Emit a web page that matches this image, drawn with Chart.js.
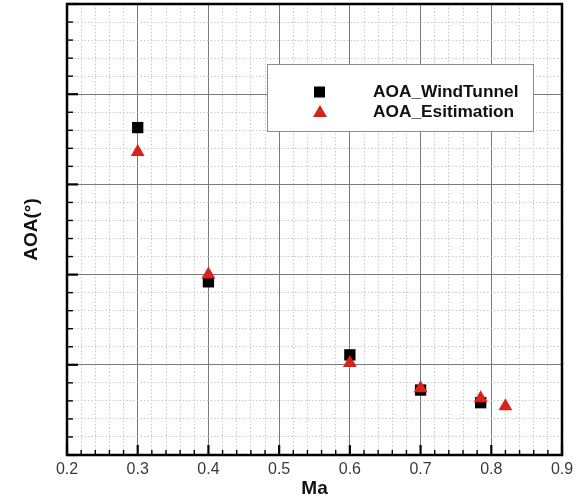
<!DOCTYPE html>
<html>
<head>
<meta charset="utf-8">
<script src="https://cdn.jsdelivr.net/npm/chart.js@4.4.1/dist/chart.umd.min.js"></script>
<style>
  html, body { margin: 0; padding: 0; background: #fff; }
  #wrap { width: 579px; height: 500px; }
</style>
</head>
<body>
<div id="wrap"><canvas id="aoaChart" width="579" height="500"></canvas></div>
<script>
// Mach number / angle of attack samples
const machTunnel = [0.3, 0.4, 0.6, 0.7, 0.785];
const aoaTunnel = [3.63, 1.92, 1.11, 0.72, 0.58];
const machEstim = [0.3, 0.4, 0.6, 0.7, 0.785, 0.82];
const aoaEstim = [3.36, 2.00, 1.02, 0.74, 0.63, 0.54];
const xTicks = [0.2, 0.3, 0.4, 0.5, 0.6, 0.7, 0.8, 0.9];
const seriesNames = ['AOA_WindTunnel', 'AOA_Esitimation'];

const FONT = "'Liberation Sans', Arial, sans-serif";

function pts(xs, ys) {
    return xs.map((x, i) => ({ x: x, y: ys[i] }));
}

function isMajor(v, step) {
    const r = v / step;
    return Math.abs(r - Math.round(r)) < 1e-6;
}

// frame + inward tick marks
const framePlugin = {
    id: 'frame',
    beforeDatasetsDraw(chart) {
        const { ctx, chartArea: a, scales } = chart;
        ctx.save();
        ctx.strokeStyle = '#000';
        scales.x.ticks.forEach(t => {
            const px = scales.x.getPixelForValue(t.value);
            const major = isMajor(t.value, 0.1);
            ctx.lineWidth = major ? 2.2 : 1.4;
            ctx.beginPath();
            ctx.moveTo(px, a.bottom);
            ctx.lineTo(px, a.bottom - (major ? 10 : 5));
            ctx.stroke();
        });
        scales.y.ticks.forEach(t => {
            const py = scales.y.getPixelForValue(t.value);
            const major = isMajor(t.value, 1);
            ctx.lineWidth = major ? 2.2 : 1.4;
            ctx.beginPath();
            ctx.moveTo(a.left, py);
            ctx.lineTo(a.left + (major ? 11 : 6), py);
            ctx.stroke();
        });
        ctx.lineWidth = 2.5;
        ctx.strokeRect(a.left, a.top, a.right - a.left, a.bottom - a.top);
        ctx.restore();
    }
};

// legend box in the upper right of the plot
const legendPlugin = {
    id: 'boxLegend',
    afterDatasetsDraw(chart) {
        const { ctx } = chart;
        const bx = 267, by = 64, bw = 266, bh = 67;
        ctx.save();
        ctx.fillStyle = '#fff';
        ctx.fillRect(bx, by, bw, bh);
        ctx.strokeStyle = '#8c8c8c';
        ctx.lineWidth = 1;
        ctx.strokeRect(bx + 0.5, by + 0.5, bw, bh);
        ctx.font = 'bold 16px ' + FONT;
        ctx.textBaseline = 'middle';
        const rows = [by + 28, by + 48];
        chart.data.datasets.forEach(ds => {
            const cy = rows[ds.legendRow];
            ctx.fillStyle = ds.backgroundColor;
            if (ds.pointStyle === 'rect') {
                ctx.fillRect(314, cy - 5.5, 11, 11);
            } else {
                ctx.beginPath();
                ctx.moveTo(320, cy - 7);
                ctx.lineTo(327, cy + 5);
                ctx.lineTo(313, cy + 5);
                ctx.closePath();
                ctx.fill();
            }
            ctx.fillStyle = '#111';
            ctx.save();
            ctx.translate(373, cy);
            ctx.scale(1.08, 1);
            ctx.fillText(ds.label, 0, 1);
            ctx.restore();
        });
        ctx.restore();
    }
};

new Chart(document.getElementById('aoaChart'), {
    type: 'scatter',
    data: {
        datasets: [
            {
                label: seriesNames[1],
                legendRow: 1,
                data: pts(machEstim, aoaEstim),
                pointStyle: 'triangle',
                pointRadius: 8,
                pointHoverRadius: 8,
                backgroundColor: '#d8231d',
                borderColor: '#d8231d',
                borderWidth: 0,
                order: 0
            },
            {
                label: seriesNames[0],
                legendRow: 0,
                data: pts(machTunnel, aoaTunnel),
                pointStyle: 'rect',
                pointRadius: 8,
                pointHoverRadius: 8,
                backgroundColor: '#000',
                borderColor: '#000',
                borderWidth: 0,
                order: 1
            }
        ]
    },
    options: {
        responsive: false,
        animation: false,
        layout: { autoPadding: false, padding: { top: 4, right: 17, bottom: 0, left: 0 } },
        plugins: {
            legend: { display: false },
            tooltip: { enabled: false }
        },
        scales: {
            x: {
                type: 'linear',
                min: 0.2,
                max: 0.9,
                afterFit: s => { s.height = 45; },
                afterBuildTicks: s => {
                    const t = [];
                    for (let i = 0; i <= 35; i++) t.push({ value: +(0.2 + i * 0.02).toFixed(2) });
                    s.ticks = t;
                },
                grid: {
                    drawTicks: false,
                    color: c => isMajor(c.tick.value, 0.1) ? '#7a7a7a' : '#c9c9c9',
                    lineWidth: 1
                },
                border: {
                    display: false,
                    dash: c => (c.tick && !isMajor(c.tick.value, 0.1)) ? [1.5, 2] : []
                },
                ticks: {
                    autoSkip: false,
                    maxRotation: 0,
                    padding: 5,
                    color: '#3a3a3a',
                    font: { family: FONT, size: 16 },
                    callback: v => xTicks.some(t => Math.abs(t - v) < 1e-6) ? v.toFixed(1) : ''
                },
                title: {
                    display: true,
                    text: 'Ma',
                    color: '#111',
                    padding: { top: 0, bottom: 0 },
                    font: { family: FONT, size: 19, weight: 'bold' }
                }
            },
            y: {
                type: 'linear',
                min: 0,
                max: 5,
                afterFit: s => { s.width = 67; },
                afterBuildTicks: s => {
                    const t = [];
                    for (let i = 0; i <= 25; i++) t.push({ value: +(i * 0.2).toFixed(1) });
                    s.ticks = t;
                },
                grid: {
                    drawTicks: false,
                    color: c => isMajor(c.tick.value, 1) ? '#7a7a7a' : '#c9c9c9',
                    lineWidth: 1
                },
                border: {
                    display: false,
                    dash: c => (c.tick && !isMajor(c.tick.value, 1)) ? [1.5, 2] : []
                },
                ticks: { display: false },
                title: {
                    display: true,
                    text: 'AOA(°)',
                    color: '#111',
                    padding: { top: 20, bottom: 0 },
                    font: { family: FONT, size: 19, weight: 'bold' }
                }
            }
        }
    },
    plugins: [framePlugin, legendPlugin]
});
</script>
</body>
</html>
